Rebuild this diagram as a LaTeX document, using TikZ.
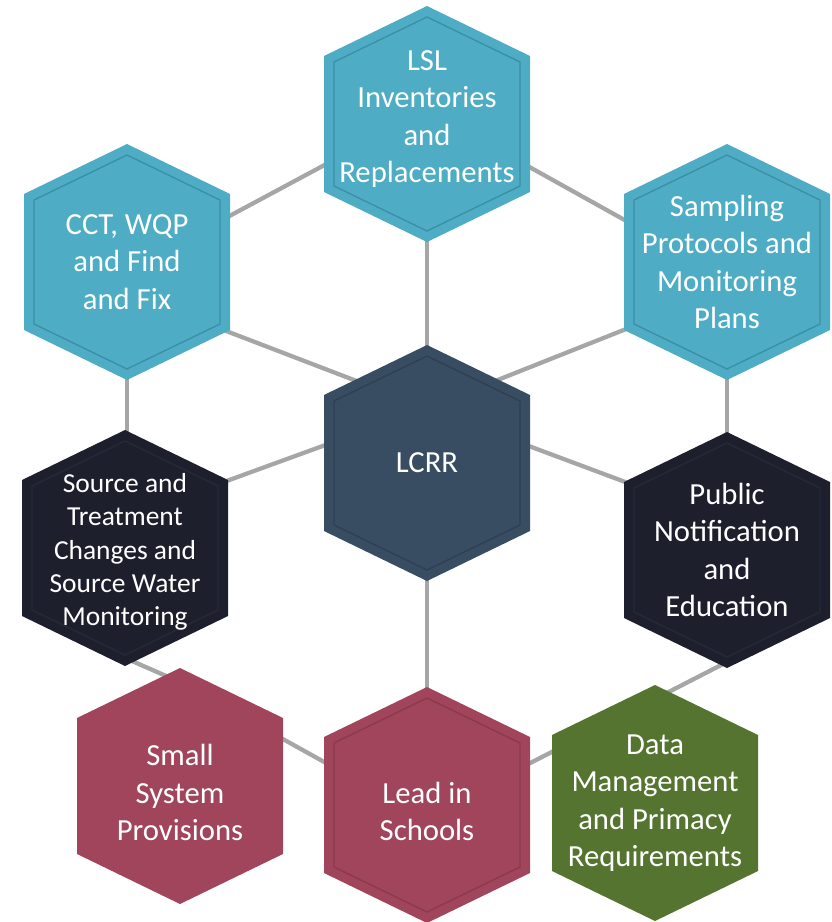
\documentclass[tikz,border=0pt]{standalone}
\usepackage{fontspec}
\setmainfont{Carlito}
\usetikzlibrary{calc,backgrounds}
\definecolor{hexteal}{RGB}{78,172,196}
\definecolor{hextealline}{RGB}{60,142,164}
\definecolor{hexnavy}{RGB}{57,77,98}
\definecolor{hexnavyline}{RGB}{47,63,81}
\definecolor{hexdark}{RGB}{29,31,45}
\definecolor{hexdarkline}{RGB}{38,41,56}
\definecolor{hexred}{RGB}{160,69,92}
\definecolor{hexredline}{RGB}{138,57,78}
\definecolor{hexgreen}{RGB}{84,116,47}
\definecolor{linkgrey}{RGB}{166,166,166}

\begin{document}
\begin{tikzpicture}[x=0.75pt,y=-0.75pt,
  cell/.style={text=white,align=center,font=\fontsize{23}{28}\selectfont},
  smallcell/.style={cell,font=\fontsize{20.6}{25}\selectfont},
  link/.style={draw=linkgrey,line width=3.2pt}]
\useasboundingbox (0,0) rectangle (832,922);
% hexagon centres
\coordinate (lcrr) at (427,463);
\coordinate (lsl) at (427,124);
\coordinate (cct) at (127,262);
\coordinate (samp) at (727,262);
\coordinate (src) at (125,548);
\coordinate (pub) at (727,550);
\coordinate (small) at (180,786);
\coordinate (lead) at (427,805);
\coordinate (data) at (655,803);
% texts
\node (lcrr-txt) [cell] at (lcrr) {LCRR};
\node (lsl-txt) [cell,yshift=3.75pt] at (lsl) {LSL\\Inventories\\and\\Replacements};
\node (cct-txt) [cell] at (cct) {CCT, WQP\\and Find\\and Fix};
\node (samp-txt) [cell] at (samp) {Sampling\\Protocols and\\Monitoring\\Plans};
\node (src-txt) [smallcell,yshift=-3pt] at (src) {Source and\\Treatment\\Changes and\\Source Water\\Monitoring};
\node (pub-txt) [cell] at (pub) {Public\\Notification\\and\\Education};
\node (small-txt) [cell,yshift=-5pt] at (small) {Small\\System\\Provisions};
\node (lead-txt) [cell,yshift=-5pt] at (lead) {Lead in\\Schools};
\node (data-txt) [cell] at (data) {Data\\Management\\and Primacy\\Requirements};
\begin{scope}[on background layer]
% links
\draw[link] ($(lsl)+(0,-14)$) -- ($(cct)+(0,9)$);
\draw[link] ($(lsl)+(0,-14)$) -- ($(samp)+(0,15)$);
\draw[link] (lsl) -- (lcrr);
\draw[link] (lcrr) -- (lead);
\draw[link] (cct) -- (cct |- src);
\draw[link] (samp) -- (pub);
\draw[link] ($(lcrr)+(0,-55)$) -- ($(cct)+(0,31)$);
\draw[link] ($(lcrr)+(0,-55)$) -- ($(samp)+(0,27)$);
\draw[link] ($(lcrr)+(0,-55)$) -- ($(src)+(0,-30)$);
\draw[link] ($(lcrr)+(0,-55)$) -- ($(pub)+(0,-30)$);
\draw[link] ($(src)+(0,110)$) -- ($(small)+(0,-104)$);
\draw[link] ($(small)+(0,-104)$) -- ($(lead)+(0,14)$);
\draw[link] ($(lead)+(0,11)$) -- ($(data)+(0,-104)$);
\draw[link] ($(pub)+(0,112)$) -- ($(data)+(0,-104)$);
% hexagons
\foreach \c/\col in {lsl/hexteal,cct/hexteal,samp/hexteal,lcrr/hexnavy,src/hexdark,
    pub/hexdark,small/hexred,lead/hexred,data/hexgreen}
  \fill[\col,shift={(\c)}] (0,-118) -- (103,-68) -- (103,68) -- (0,118)
    -- (-103,68) -- (-103,-68) -- cycle;
\foreach \c/\col in {lsl/hextealline,cct/hextealline,samp/hextealline,
    lcrr/hexnavyline,src/hexdarkline,pub/hexdarkline,lead/hexredline}
  \draw[\col,line width=1pt,shift={(\c)}] (0,-107) -- (93,-62) -- (93,62)
    -- (0,107) -- (-93,62) -- (-93,-62) -- cycle;
\end{scope}
\end{tikzpicture}
\end{document}
